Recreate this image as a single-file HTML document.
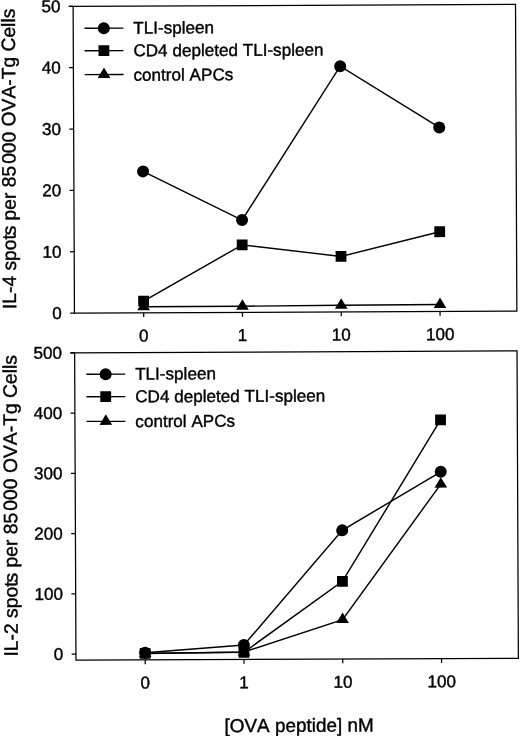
<!DOCTYPE html>
<html><head><meta charset="utf-8"><title>Figure</title>
<style>html,body{margin:0;padding:0;background:#fff}body{width:520px;height:736px;overflow:hidden}</style></head>
<body>
<svg width="520" height="736" viewBox="0 0 520 736" style="display:block">
<rect width="520" height="736" fill="#fff"/>
<g transform="rotate(-0.25 260 368)">
<g stroke="#000" stroke-width="1.25" fill="none">
<path d="M70.4,5.5 H517.1 V312.3 H74.7 V5.5"/>
<path d="M70.4,312.30 H74.7"/>
<path d="M70.4,250.94 H74.7"/>
<path d="M70.4,189.58 H74.7"/>
<path d="M70.4,128.22 H74.7"/>
<path d="M70.4,66.86 H74.7"/>
<path d="M70.4,5.50 H74.7"/>
<path d="M143.9,312.3 V316.6"/>
<path d="M242.7,312.3 V316.6"/>
<path d="M341.5,312.3 V316.6"/>
<path d="M440.3,312.3 V316.6"/>
<polyline points="143.90,170.87 242.70,219.95 341.50,66.55 440.30,128.22" stroke-width="1.45"/>
<polyline points="143.90,300.64 242.70,244.80 341.50,256.77 440.30,232.53" stroke-width="1.45"/>
<polyline points="143.90,306.16 242.70,306.16 341.50,305.55 440.30,305.24" stroke-width="1.45"/>
<path d="M70.4,352.0 H517.1 V659.4 H74.7 V352.0"/>
<path d="M70.4,653.40 H74.7"/>
<path d="M70.4,593.12 H74.7"/>
<path d="M70.4,532.84 H74.7"/>
<path d="M70.4,472.56 H74.7"/>
<path d="M70.4,412.28 H74.7"/>
<path d="M70.4,352.00 H74.7"/>
<path d="M143.9,659.4 V663.6999999999999"/>
<path d="M242.7,659.4 V663.6999999999999"/>
<path d="M341.5,659.4 V663.6999999999999"/>
<path d="M440.3,659.4 V663.6999999999999"/>
<polyline points="143.90,652.19 242.70,644.96 341.50,530.73 440.30,472.56" stroke-width="1.45"/>
<polyline points="143.90,652.80 242.70,652.19 341.50,581.67 440.30,420.72" stroke-width="1.45"/>
<polyline points="143.90,653.10 242.70,651.89 341.50,619.94 440.30,484.92" stroke-width="1.45"/>
</g>
<g fill="#000" stroke="none">
<circle cx="143.90" cy="170.87" r="6"/>
<circle cx="242.70" cy="219.95" r="6"/>
<circle cx="341.50" cy="66.55" r="6"/>
<circle cx="440.30" cy="128.22" r="6"/>
<rect x="138.50" y="295.24" width="10.8" height="10.8"/>
<rect x="237.30" y="239.40" width="10.8" height="10.8"/>
<rect x="336.10" y="251.37" width="10.8" height="10.8"/>
<rect x="434.90" y="227.13" width="10.8" height="10.8"/>
<path d="M143.90,299.16 L150.20,309.66 H137.60 Z"/>
<path d="M242.70,299.16 L249.00,309.66 H236.40 Z"/>
<path d="M341.50,298.55 L347.80,309.05 H335.20 Z"/>
<path d="M440.30,298.24 L446.60,308.74 H434.00 Z"/>
<circle cx="143.90" cy="652.19" r="6"/>
<circle cx="242.70" cy="644.96" r="6"/>
<circle cx="341.50" cy="530.73" r="6"/>
<circle cx="440.30" cy="472.56" r="6"/>
<rect x="138.50" y="647.40" width="10.8" height="10.8"/>
<rect x="237.30" y="646.79" width="10.8" height="10.8"/>
<rect x="336.10" y="576.27" width="10.8" height="10.8"/>
<rect x="434.90" y="415.32" width="10.8" height="10.8"/>
<path d="M143.90,646.10 L150.20,656.60 H137.60 Z"/>
<path d="M242.70,644.89 L249.00,655.39 H236.40 Z"/>
<path d="M341.50,612.94 L347.80,623.44 H335.20 Z"/>
<path d="M440.30,477.92 L446.60,488.42 H434.00 Z"/>
</g>
<g stroke="#000" stroke-width="1.3">
<path d="M86.00,27.50 H124.90"/>
<path d="M86.00,50.00 H124.90"/>
<path d="M86.00,73.90 H124.90"/>
</g>
<g fill="#000">
<circle cx="105.30" cy="27.50" r="6"/>
<rect x="99.90" y="44.60" width="10.8" height="10.8"/>
<path d="M105.30,66.90 L111.60,77.40 H99.00 Z"/>
</g>
<g font-family="Liberation Sans, Arial, Helvetica, sans-serif" style="font-kerning:none" font-size="17.1" fill="#000" stroke="#000" stroke-width="0.4">
<text x="134.80" y="33.10">TLI-spleen</text>
<text x="134.80" y="55.80">CD4 depleted TLI-spleen</text>
<text x="134.80" y="80.20">control APCs</text>
</g>
<g stroke="#000" stroke-width="1.3">
<path d="M86.30,373.50 H125.20"/>
<path d="M86.30,396.00 H125.20"/>
<path d="M86.30,420.70 H125.20"/>
</g>
<g fill="#000">
<circle cx="105.60" cy="373.50" r="6"/>
<rect x="100.20" y="390.60" width="10.8" height="10.8"/>
<path d="M105.60,413.70 L111.90,424.20 H99.30 Z"/>
</g>
<g font-family="Liberation Sans, Arial, Helvetica, sans-serif" style="font-kerning:none" font-size="17.1" fill="#000" stroke="#000" stroke-width="0.4">
<text x="135.10" y="379.10">TLI-spleen</text>
<text x="135.10" y="401.80">CD4 depleted TLI-spleen</text>
<text x="135.10" y="426.60">control APCs</text>
</g>
<g font-family="Liberation Sans, Arial, Helvetica, sans-serif" style="font-kerning:none" font-size="17.1" fill="#000" stroke="#000" stroke-width="0.4">
<text x="62.1" y="318.10" text-anchor="end">0</text>
<text x="62.1" y="659.20" text-anchor="end">0</text>
<text x="62.1" y="256.74" text-anchor="end">10</text>
<text x="62.1" y="598.92" text-anchor="end">100</text>
<text x="62.1" y="195.38" text-anchor="end">20</text>
<text x="62.1" y="538.64" text-anchor="end">200</text>
<text x="62.1" y="134.02" text-anchor="end">30</text>
<text x="62.1" y="478.36" text-anchor="end">300</text>
<text x="62.1" y="72.66" text-anchor="end">40</text>
<text x="62.1" y="418.08" text-anchor="end">400</text>
<text x="62.1" y="11.30" text-anchor="end">50</text>
<text x="62.1" y="357.80" text-anchor="end">500</text>
<text x="143.9" y="340.90" text-anchor="middle">0</text>
<text x="143.9" y="688.10" text-anchor="middle">0</text>
<text x="242.7" y="340.90" text-anchor="middle">1</text>
<text x="242.7" y="688.10" text-anchor="middle">1</text>
<text x="341.5" y="340.90" text-anchor="middle">10</text>
<text x="341.5" y="688.10" text-anchor="middle">10</text>
<text x="440.3" y="340.90" text-anchor="middle">100</text>
<text x="440.3" y="688.10" text-anchor="middle">100</text>
<text x="297.5" y="732" text-anchor="middle" font-size="18.9">[OVA peptide] nM</text>
<text transform="translate(16.4,308.0) rotate(-90)" font-size="19.25">IL-4 spot<tspan dx="-1.2">s</tspan> per 85<tspan dx="-3.4"> </tspan>000 OVA-Tg Cells</text>
<text transform="translate(16.5,655.5) rotate(-90)" font-size="19.33">IL-2 spot<tspan dx="-1.2">s</tspan> per 85<tspan dx="-3.4"> </tspan>000 OVA-Tg Cells</text>
</g>
</g>
</svg>
</body></html>
